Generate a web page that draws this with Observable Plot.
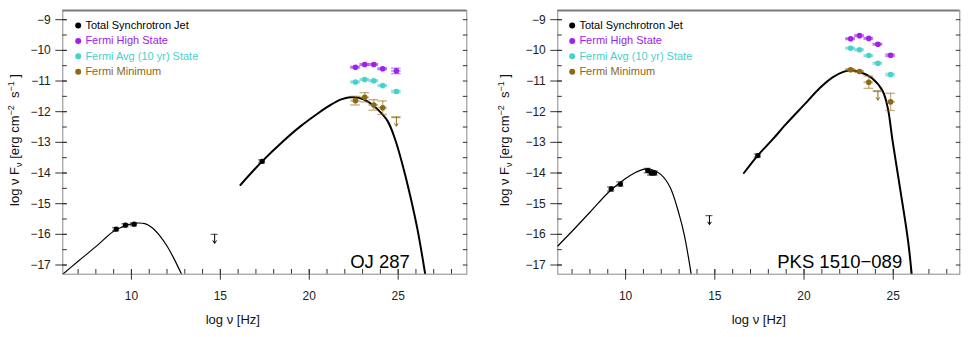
<!DOCTYPE html>
<html><head><meta charset="utf-8">
<script src="https://cdn.jsdelivr.net/npm/d3@7"></script>
<script src="https://cdn.jsdelivr.net/npm/@observablehq/plot@0.6"></script>
<style>
body{margin:0;background:#fff;font-family:"Liberation Sans",Arial,sans-serif;}
#wrap{position:relative;width:969px;height:337px;overflow:hidden;}
#wrap svg{position:absolute;top:0;}
</style></head><body><div id="wrap"></div>
<script>
// ---------- shared labels / ticks ----------
const legendLabels = ["Total Synchrotron Jet", "Fermi High State", "Fermi Avg (10 yr) State", "Fermi Minimum"];
const legendColors = ["#000000", "#a020f0", "#48d1cc", "#8b6914"];
const yTicks = [-17, -16, -15, -14, -13, -12, -11, -10, -9];
const yMinorTicks = [-17, -16.5, -16, -15.5, -15, -14.5, -14, -13.5, -13, -12.5, -12, -11.5, -11, -10.5, -10, -9.5, -9];
const xTicks = [10, 15, 20, 25];
const xMinorTicks = [7, 8, 9, 10, 11, 12, 13, 14, 15, 16, 17, 18, 19, 20, 21, 22, 23, 24, 25, 26, 27, 28];
const xLabelText = "log ν [Hz]";

// ---------- OJ 287 ----------
const ojName = "OJ 287";
const ojSyncX = [6.14, 7, 8, 9, 9.5, 10, 10.4, 10.8, 11.2, 11.6, 12, 12.4, 12.9];
const ojSyncY = [-17.3, -16.88, -16.4, -15.9, -15.76, -15.66, -15.63, -15.66, -15.8, -16.05, -16.38, -16.8, -17.4];
const ojIcX = [16.13, 17.35, 18.5, 19.5, 20.5, 21.2, 21.8, 22.3, 22.8, 23.3, 23.8, 24.4, 24.85, 25.3, 25.7, 26.1, 26.55];
const ojIcY = [-14.39, -13.62, -12.98, -12.48, -12.05, -11.78, -11.6, -11.53, -11.55, -11.67, -11.9, -12.3, -12.94, -13.85, -14.8, -15.88, -17.4];
const ojJetX = [9.14, 9.66, 10.15, 17.35];
const ojJetY = [-15.83, -15.70, -15.67, -13.62];
const ojJetErr = [0.05, 0.05, 0.05, 0.05];
const ojJetUlX = 14.68, ojJetUlY = -16.0;
const ojFermiX = [22.6, 23.12, 23.63, 24.13, 24.9];
const ojHigh = [-10.55, -10.46, -10.46, -10.6, -10.67];
const ojHighErr = [0.03, 0.03, 0.03, 0.03, 0.09];
const ojAvg = [-11.03, -10.95, -10.99, -11.15, -11.34];
const ojAvgErr = [0.03, 0.03, 0.03, 0.03, 0.04];
const ojMin = [-11.64, -11.53, -11.78, -11.87, -12.18];
const ojMinErr = [0.14, 0.15, 0.17, 0.22, 0];
const ojMinUL = [false, false, false, false, true];

// ---------- PKS 1510-089 ----------
const pksName = "PKS 1510−089";
const pksSyncX = [6.2, 7, 8, 9, 9.5, 10, 10.5, 11, 11.3, 11.6, 12, 12.5, 13, 13.3, 13.55, 13.7];
const pksSyncY = [-16.38, -15.9, -15.28, -14.65, -14.4, -14.18, -14.0, -13.88, -13.87, -13.92, -14.06, -14.47, -15.35, -16.05, -16.85, -17.4];
const pksIcX = [16.63, 17.4, 18.2, 19, 20, 20.9, 21.6, 22.2, 22.6, 23.2, 23.8, 24.4, 24.7, 24.95, 25.3, 25.6, 25.85, 26.05];
const pksIcY = [-14.0, -13.43, -12.93, -12.4, -11.78, -11.22, -10.88, -10.7, -10.65, -10.72, -10.9, -11.32, -11.9, -12.9, -14.2, -15.3, -16.3, -17.4];
const pksJetX = [9.19, 9.71, 11.24, 11.43, 11.62, 17.41];
const pksJetY = [-14.52, -14.36, -13.92, -14.0, -14.0, -13.43];
const pksJetErr = [0.07, 0.07, 0.07, 0.07, 0.07, 0.05];
const pksJetUlX = 14.7, pksJetUlY = -15.39;
const pksFermiX = [22.61, 23.11, 23.63, 24.14, 24.85];
const pksHigh = [-9.62, -9.52, -9.61, -9.8, -10.16];
const pksHighErr = [0.03, 0.03, 0.03, 0.03, 0.04];
const pksAvg = [-9.93, -9.98, -10.17, -10.42, -10.79];
const pksAvgErr = [0.03, 0.03, 0.03, 0.03, 0.04];
const pksMin = [-10.63, -10.69, -11.04, -11.33, -11.68];
const pksMinErr = [0.03, 0.03, 0.2, 0, 0.28];
const pksMinUL = [false, false, false, true, false];

// ---------- drawing ----------
const FONT = "Liberation Sans, Arial, Helvetica, sans-serif";
const fmt = d => String(d).replace("-", "\u2212");

function makePanel(c) {
  const sync = c.syncX.map((x, i) => ({x, y: c.syncY[i]}));
  const ic = c.icX.map((x, i) => ({x, y: c.icY[i]}));
  const jet = c.jetX.map((x, i) => ({x, y: c.jetY[i], e: c.jetErr[i], c: legendColors[0]}));
  const fermi = [];
  [[c.high, c.highErr, 1], [c.avg, c.avgErr, 2], [c.min, c.minErr, 3]].forEach(([vals, errs, k]) =>
    vals.forEach((y, i) => fermi.push({x: c.fermiX[i], y, e: errs[i], c: legendColors[k], ul: k === 3 && c.minUL[i]})));
  const det = fermi.filter(d => !d.ul);
  const ul = [{x: c.jetUlX, y: c.jetUlY, c: legendColors[0], w: 0.2}, ...fermi.filter(d => d.ul).map(d => ({...d, w: 0.24}))];
  const caps = (pts, w) => pts.flatMap(d => [{...d, yy: d.y - d.e, w}, {...d, yy: d.y + d.e, w}]);
  const errMarks = (pts, w, op) => [
    Plot.ruleX(pts, {x: "x", y1: d => d.y - d.e, y2: d => d.y + d.e, stroke: "c", strokeOpacity: op, strokeWidth: 1.4}),
    Plot.ruleY(caps(pts, w), {y: "yy", x1: d => d.x - d.w, x2: d => d.x + d.w, stroke: "c", strokeOpacity: op, strokeWidth: 1.4})
  ];

  const W = c.width;
  const marks = [
    Plot.frame({stroke: "#8a8a8a", strokeWidth: 1}),
    Plot.ruleY([c.yDomain[1]], {stroke: "#7a7a7a", strokeWidth: 2.2}),
    // axes
    Plot.axisY(yTicks, {anchor: "left", tickSize: 11.5, dx: 4.5, tickFormat: () => "", label: null, stroke: "#333"}),
    Plot.axisY(yMinorTicks, {anchor: "left", tickSize: 4.5, dx: 4.5, tickFormat: () => "", label: null, stroke: "#333"}),
    Plot.axisY(yMinorTicks, {anchor: "right", tickSize: 4.5, dx: -4.5, tickFormat: () => "", label: null, stroke: "#333"}),
    Plot.axisY(yTicks, {anchor: "left", tickSize: 0, tickPadding: 12, tickFormat: fmt, label: null, fontSize: 12, fill: "#222"}),
    Plot.axisX(xTicks, {anchor: "bottom", tickSize: 10.7, dy: -4.7, tickFormat: () => "", label: null, stroke: "#333"}),
    Plot.axisX(xMinorTicks, {anchor: "bottom", tickSize: 4.7, dy: -4.7, tickFormat: () => "", label: null, stroke: "#333"}),
    Plot.axisX(xTicks, {anchor: "bottom", tickSize: 0, tickPadding: 17, tickFormat: fmt, label: null, fontSize: 12, fill: "#222"}),
    // model curves
    Plot.line(sync, {x: "x", y: "y", stroke: "#000", strokeWidth: 1.2, curve: "catmull-rom", clip: true}),
    Plot.line(ic, {x: "x", y: "y", stroke: "#000", strokeWidth: 2, curve: "catmull-rom", clip: true}),
    // Fermi horizontal bin bars
    Plot.ruleY(fermi, {y: "y", x1: d => d.x - 0.27, x2: d => d.x + 0.27, stroke: "c", strokeOpacity: 0.45, strokeWidth: 2}),
    ...errMarks(det, 0.27, 0.5),
    ...errMarks(jet, 0.2, 0.5),
    // upper limits
    Plot.ruleY(ul, {y: "y", x1: d => d.x - d.w, x2: d => d.x + d.w, stroke: "c", strokeOpacity: 0.6, strokeWidth: 1.2}),
    Plot.arrow(ul, {x1: "x", x2: "x", y1: "y", y2: d => d.y - 0.29, stroke: "c", strokeWidth: 1, headLength: 5, headAngle: 70}),
    // points
    Plot.dot(det, {x: "x", y: "y", fill: "c", r: 2.8}),
    Plot.dot(jet, {x: "x", y: "y", fill: "c", r: 2.6}),
    // source name
    Plot.text([c.name], {frameAnchor: "bottom-right", dx: c.nameDx, dy: -12.5, textAnchor: "end", lineAnchor: "middle", fontSize: 18.5, fill: "#000"}),
    // x label
    Plot.text([xLabelText], {frameAnchor: "bottom", dx: c.xLabelDx, dy: 46, lineAnchor: "middle", fontSize: 13, fill: "#111"}),
    // legend
    ...legendLabels.flatMap((t, i) => [
      Plot.dot([t], {frameAnchor: "top-left", dx: c.legDotDx, dy: 15 + 15.4 * i, r: 3, fill: legendColors[i]}),
      Plot.text([t], {frameAnchor: "top-left", dx: c.legDotDx + 7.2, dy: 15 + 15.4 * i, textAnchor: "start", lineAnchor: "middle", fontSize: 11, fill: legendColors[i]})
    ])
  ];

  const fig = Plot.plot({
    width: W, height: 337,
    marginLeft: c.marginLeft, marginRight: c.marginRight, marginTop: 10, marginBottom: 63.3,
    x: {domain: c.xDomain, label: null},
    y: {domain: c.yDomain, label: null},
    style: {fontFamily: FONT, background: "transparent", overflow: "visible"},
    marks
  });

  // y-axis label with sub/superscripts
  const t = d3.select(fig).append("text")
    .attr("transform", `translate(${c.yLabelX},${c.yLabelY}) rotate(-90)`)
    .attr("text-anchor", "middle").attr("font-size", 13).attr("fill", "#111")
    .attr("font-family", FONT);
  t.append("tspan").text("log ν F");
  t.append("tspan").attr("font-size", 9).attr("dy", 3).text("ν");
  t.append("tspan").attr("dy", -3).text(" [erg cm");
  t.append("tspan").attr("font-size", 9).attr("dy", -5.5).text("−2");
  t.append("tspan").attr("dy", 5.5).text("  s");
  t.append("tspan").attr("font-size", 9).attr("dy", -5.5).text("−1");
  t.append("tspan").attr("dy", 5.5).text(" ]");

  fig.style.left = c.left + "px";
  return fig;
}

const wrap = document.getElementById("wrap");
wrap.appendChild(makePanel({
  name: ojName, left: 0, width: 484, marginLeft: 62.3, marginRight: 17.7,
  xDomain: [6.14, 28.86], yDomain: [-17.3, -8.7],
  syncX: ojSyncX, syncY: ojSyncY, icX: ojIcX, icY: ojIcY,
  jetX: ojJetX, jetY: ojJetY, jetErr: ojJetErr, jetUlX: ojJetUlX, jetUlY: ojJetUlY,
  fermiX: ojFermiX, high: ojHigh, highErr: ojHighErr, avg: ojAvg, avgErr: ojAvgErr,
  min: ojMin, minErr: ojMinErr, minUL: ojMinUL,
  nameDx: -57, xLabelDx: -32, legDotDx: 15.4, yLabelX: 19, yLabelY: 140
}));
wrap.appendChild(makePanel({
  name: pksName, left: 484, width: 485, marginLeft: 73.3, marginRight: 9.7,
  xDomain: [6.2, 28.73], yDomain: [-17.3, -8.7],
  syncX: pksSyncX, syncY: pksSyncY, icX: pksIcX, icY: pksIcY,
  jetX: pksJetX, jetY: pksJetY, jetErr: pksJetErr, jetUlX: pksJetUlX, jetUlY: pksJetUlY,
  fermiX: pksFermiX, high: pksHigh, highErr: pksHighErr, avg: pksAvg, avgErr: pksAvgErr,
  min: pksMin, minErr: pksMinErr, minUL: pksMinUL,
  nameDx: -57.6, xLabelDx: 0, legDotDx: 14.4, yLabelX: 25, yLabelY: 140
}));
</script></body></html>
